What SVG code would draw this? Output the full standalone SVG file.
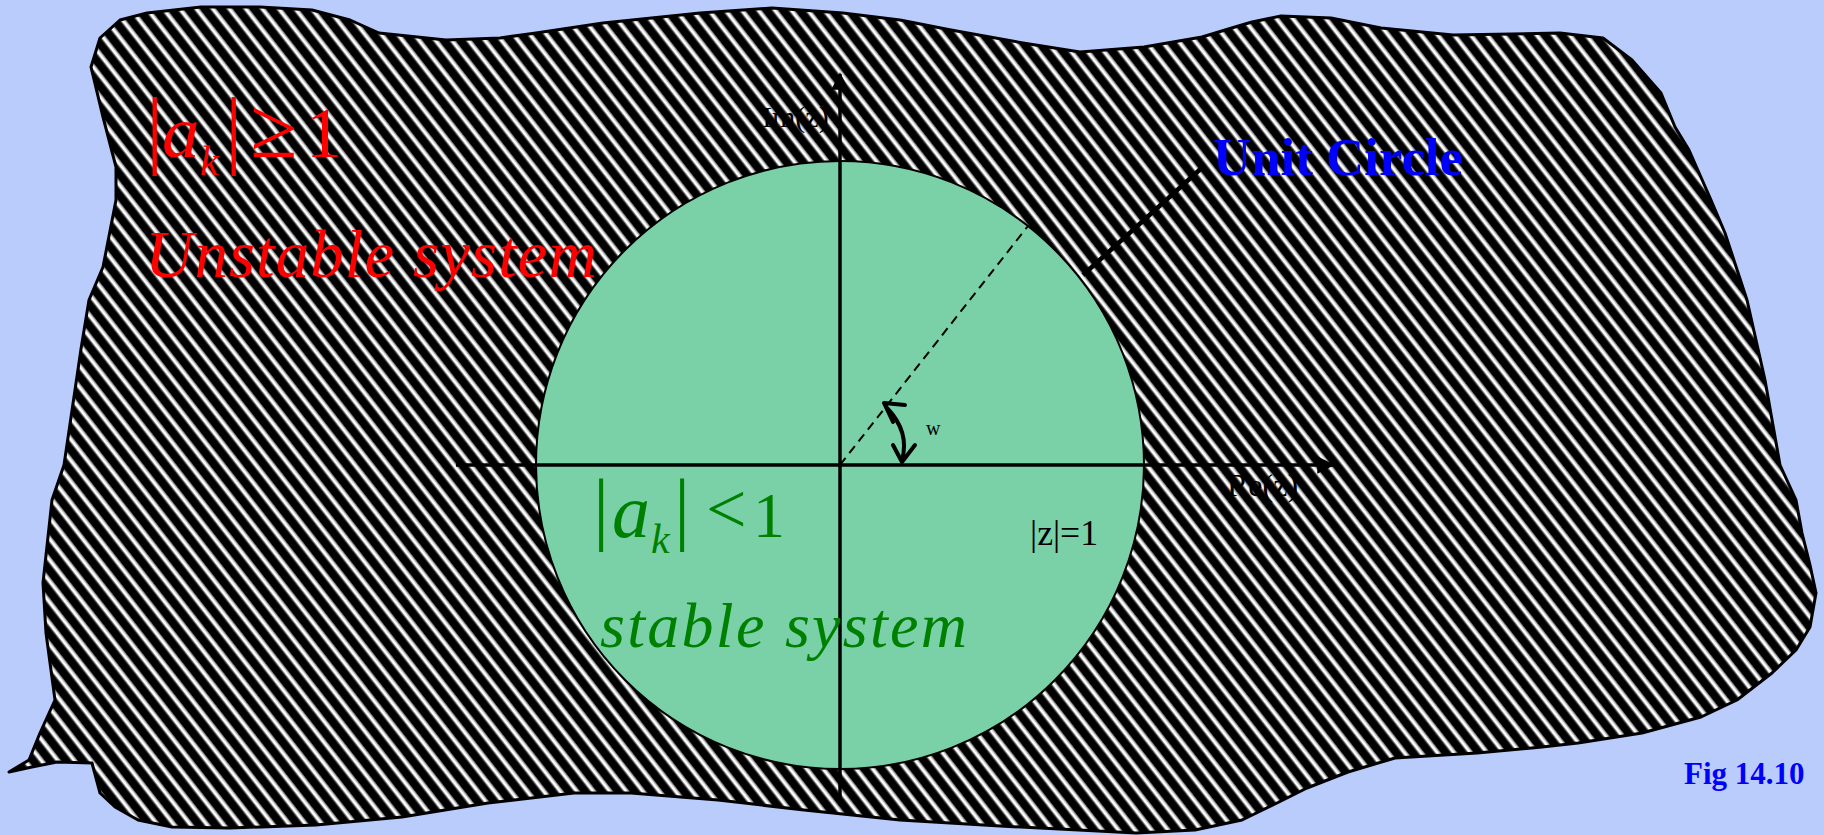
<svg xmlns="http://www.w3.org/2000/svg" width="1824" height="835" viewBox="0 0 1824 835">
<style>
.serif{font-family:"Liberation Serif","Times New Roman",serif}
.it{font-style:italic}
.red{fill:#FF0000}
.grn{fill:#008000}
.blu{fill:#0000FF;font-weight:bold}
.blk{fill:#000}
.ax{stroke:#000;stroke-width:3.5;fill:none}
.thick{stroke:#000;stroke-width:4;fill:none;stroke-linecap:round;stroke-linejoin:round}
</style>
<defs>
<pattern id="hatch" patternUnits="userSpaceOnUse" width="20" height="13" patternTransform="rotate(52)">
<rect width="20" height="13" fill="#000"/>
<rect y="4" width="20" height="1.2" fill="#888"/>
<rect y="5.2" width="20" height="2.8" fill="#fff"/>
<rect y="8" width="20" height="1.2" fill="#888"/>
</pattern>
<marker id="arr" viewBox="0 0 10 10" refX="9" refY="5" markerWidth="5" markerHeight="5" orient="auto" markerUnits="strokeWidth">
<path d="M0,0 L10,5 L0,10 Z" fill="#000"/>
</marker>
</defs>
<rect width="1824" height="835" fill="#B9CCFB"/>
<g id="unstable-region">
<path d="M91,67 L100,38 L120,20 L147,13 L201,7 L260,7 L312,10 L350,20 L379,33 L446,40 L500,38 L536,33 L603,23 L700,13 L772,8 L843,13 L900,20 L951,30 L1023,43 L1080,52 L1144,47 L1202,37 L1235,27 L1252,22 L1281,16 L1331,18 L1381,28 L1453,35 L1560,33 L1603,38 L1632,60 L1661,93 L1675,127 L1689,150 L1711,200 L1725,233 L1747,300 L1765,380 L1780,465 L1796,500 L1802,533 L1810,565 L1816,593 L1810,627 L1796,650 L1772,673 L1737,700 L1701,717 L1642,733 L1578,743 L1542,747 L1477,753 L1395,758 L1348,772 L1307,788 L1277,803 L1242,820 L1195,830 L1136,833 L1000,826 L900,820 L804,810 L718,800 L631,793 L574,793 L488,803 L402,817 L316,825 L230,828 L172,827 L138,820 L115,807 L100,793 L92,763 L57,762 L32,767 L9,772 L29,760 L40,733 L55,700 L46,633 L43,583 L52,500 L64,465 L81,349 L89,300 L103,267 L116,200 L116,167 L103,117 Z" fill="url(#hatch)" stroke="#000" stroke-width="3" stroke-linejoin="round"/>
</g>
<g id="unit-circle">
<circle cx="840" cy="465" r="304" fill="#7AD1A7" stroke="#000" stroke-width="2"/>
</g>
<g id="connectors">
<line class="ax" x1="840" y1="805" x2="840" y2="74" marker-end="url(#arr)"/>
<line class="ax" x1="456" y1="465" x2="1333" y2="465" marker-end="url(#arr)"/>
<line x1="840" y1="465" x2="1028" y2="226" stroke="#000" stroke-width="2" stroke-dasharray="9,6"/>
<line x1="1205" y1="165" x2="1083" y2="275" stroke="#000" stroke-width="4.5"/>
<path class="thick" d="M887,408 Q910,432 902,460"/>
<path class="thick" d="M905,405 L884,403 L893,422"/>
<path class="thick" d="M893,445 L902,462 L915,445"/>
</g>
<g id="label-unstable">
<text class="serif red" font-size="87" x="146" y="157">|</text>
<text class="serif it red" font-size="75" x="162" y="157">a</text>
<text class="serif it red" font-size="42" x="200" y="175">k</text>
<text class="serif red" font-size="87" x="225" y="157">|</text>
<text class="serif red" font-size="86" x="250" y="157">≥</text>
<text class="serif red" font-size="72" x="306" y="157">1</text>
<text class="serif it red" font-size="67" x="145" y="277" textLength="452" lengthAdjust="spacing">Unstable system</text>
</g>
<g id="label-stable">
<text class="serif grn" font-size="81" x="593" y="535">|</text>
<text class="serif it grn" font-size="76" x="612" y="537">a</text>
<text class="serif it grn" font-size="42" x="651" y="553">k</text>
<text class="serif grn" font-size="81" x="674" y="535">|</text>
<text class="serif grn" font-size="72" x="706" y="533">&lt;</text>
<text class="serif grn" font-size="64" x="753" y="537">1</text>
<text class="serif it grn" font-size="64" x="600" y="647" textLength="367" lengthAdjust="spacing">stable system</text>
</g>
<g id="axis-labels">
<text class="serif blk" font-size="30" x="762" y="127">Im(z)</text>
<text class="serif blk" font-size="32" x="1227" y="496">Re(z)</text>
<text class="serif blk" font-size="20" x="926" y="435">w</text>
<text class="serif blk" font-size="36" x="1030" y="545" textLength="68" lengthAdjust="spacingAndGlyphs">|z|=1</text>
</g>
<g id="label-unit-circle">
<text class="serif blu" font-size="52" x="1213" y="175" textLength="250" lengthAdjust="spacingAndGlyphs">Unit Circle</text>
</g>
<g id="fig-label">
<text class="serif blu" font-size="31" x="1684" y="784">Fig 14.10</text>
</g>
</svg>
